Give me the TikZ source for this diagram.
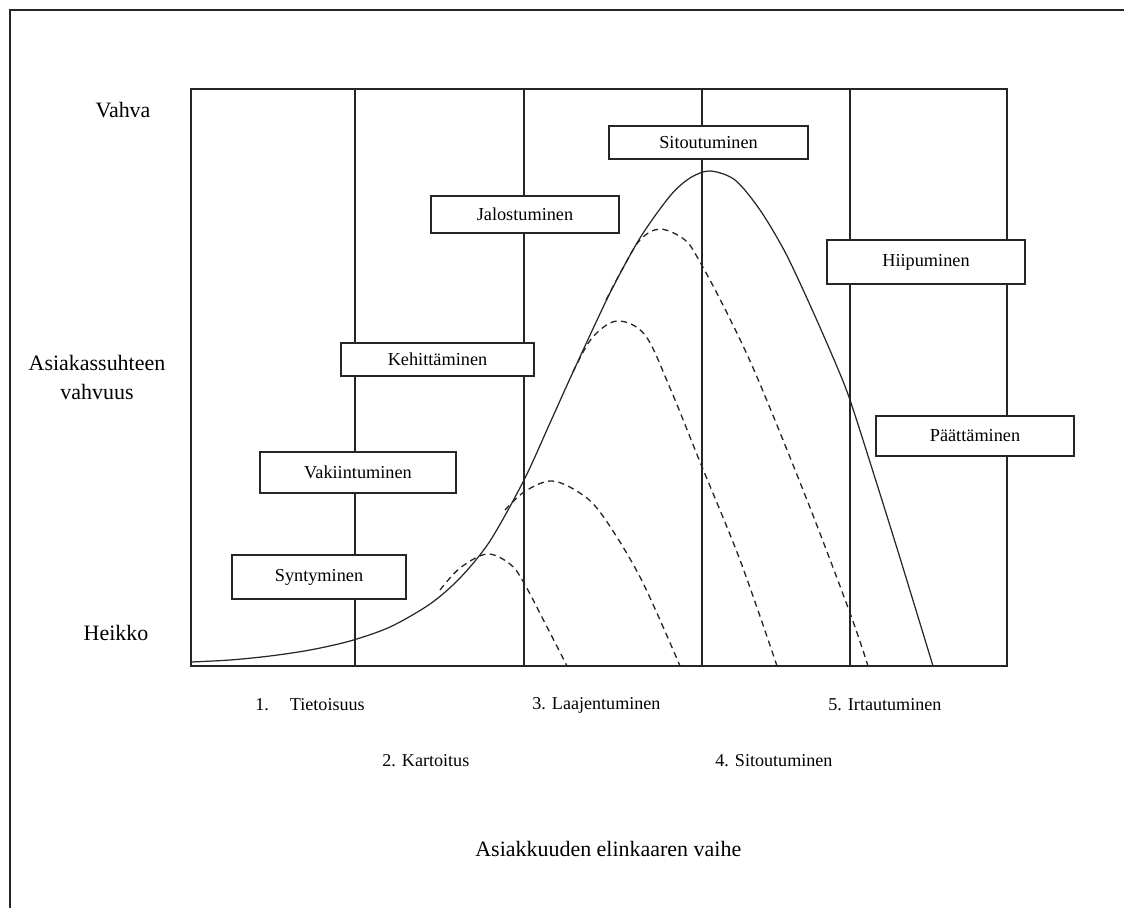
\documentclass[tikz,border=0pt]{standalone}
\usepackage{fontspec}
\setmainfont{Liberation Serif}
\usetikzlibrary{positioning}

\begin{document}
\begin{tikzpicture}[
  x=0.02cm, y=-0.02cm,
  phasebox/.style={rectangle, draw=black!85, fill=white, line width=0.8pt, text centered, inner sep=0pt, font=\fontsize{10.4}{12.5}\selectfont},
  stagelabel/.style={anchor=west, inner sep=0pt, font=\fontsize{10.3}{12.5}\selectfont},
  axislabel/.style={align=center, inner sep=0pt, font=\fontsize{12.5}{16.5}\selectfont},
  frameline/.style={draw=black!85, line width=0.8pt},
  lifecurve/.style={draw=black!85, line width=0.7pt},
  subcurve/.style={draw=black!85, line width=0.75pt, dash pattern=on 3.5pt off 2.5pt}
]
  \useasboundingbox (0,0) rectangle (1124,908);

  % Outer frame
  \draw[frameline] (10,908) -- (10,10) -- (1124,10);

  % ==================== PLOT AREA ====================
  \draw[frameline] (191,89) rectangle (1007,666);
  \foreach \xv in {355,524,702,850}
    \draw[frameline] (\xv,89) -- (\xv,666);

  % Main life cycle curve
  \draw[lifecurve] plot[smooth, tension=0.5] coordinates {
    (191,662) (230,660) (270,656) (310,650) (350,641) (390,627) (430,604)
    (460,578) (490,541) (524,480) (550,423) (573,372) (610,293) (640,238)
    (670,196) (690,178) (710,171) (735,180) (760,210) (785,252) (810,305)
    (835,362) (850,400) (875,478) (900,558) (933,666)};

  % Broken-off relationships (dashed)
  \draw[subcurve] plot[smooth, tension=0.55] coordinates {
    (440,590) (460,568) (487,554) (510,564) (524,583) (547,627) (567,666)};
  \draw[subcurve] plot[smooth, tension=0.55] coordinates {
    (505,510) (524,492) (550,481) (575,490) (600,512) (640,577) (680,666)};
  \draw[subcurve] plot[smooth, tension=0.55] coordinates {
    (573,372) (592,338) (617,321) (645,335) (670,388) (700,462) (740,560) (777,666)};
  \draw[subcurve] plot[smooth, tension=0.55] coordinates {
    (606,300) (623,268) (640,240) (660,229) (685,240) (700,262) (727,313)
    (757,377) (807,500) (850,613) (868,666)};

  % Phase boxes
  \node[phasebox, minimum width=3.98cm, minimum height=0.66cm] (sitoutuminen) at (708.5,142.5) {Sitoutuminen};
  \node[phasebox, minimum width=3.76cm, minimum height=0.74cm] (jalostuminen) at (525,214.5) {Jalostuminen};
  \node[phasebox, minimum width=3.86cm, minimum height=0.66cm] (kehittaminen) at (437.5,359.5) {Kehittäminen};
  \node[phasebox, minimum width=3.96cm, minimum height=0.88cm] (hiipuminen) at (926,262) {Hiipuminen};
  \node[phasebox, minimum width=3.96cm, minimum height=0.80cm] (paattaminen) at (975,436) {Päättäminen};
  \node[phasebox, minimum width=3.92cm, minimum height=0.82cm] (vakiintuminen) at (358,472.5) {Vakiintuminen};
  \node[phasebox, minimum width=3.48cm, minimum height=0.88cm] (syntyminen) at (319,577) {Syntyminen};

  % ==================== AXIS LABELS ====================
  \node[axislabel] (vahva) at (123,110) {Vahva};
  \node[axislabel] (vahvuus) at (97,377) {Asiakassuhteen\\vahvuus};
  \node[axislabel] (heikko) at (116,633) {Heikko};

  % Stages of the customer life cycle
  \node[stagelabel] (stage1) at (255,705) {1.\hspace{0.42cm}Tietoisuus};
  \node[stagelabel] (stage2) at (382,761) {2. Kartoitus};
  \node[stagelabel] (stage3) at (532,705) {3. Laajentuminen};
  \node[stagelabel] (stage4) at (715,761) {4. Sitoutuminen};
  \node[stagelabel] (stage5) at (828,705) {5. Irtautuminen};

  \node[axislabel, anchor=west] (vaihe) at (475,849) {Asiakkuuden elinkaaren vaihe};

\end{tikzpicture}
\end{document}
